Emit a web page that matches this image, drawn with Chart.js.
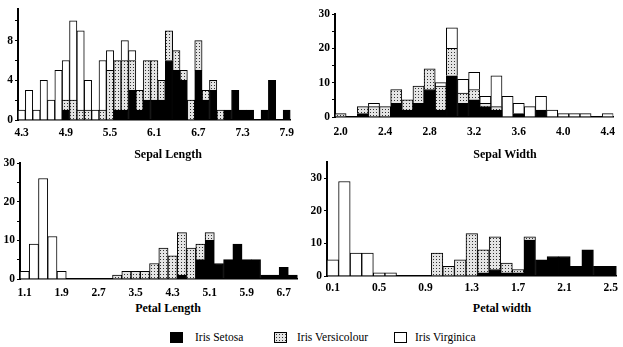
<!DOCTYPE html>
<html>
<head>
<meta charset="utf-8">
<script src="https://cdn.jsdelivr.net/npm/chart.js@4/dist/chart.umd.min.js"></script>
<style>
  body { margin: 0; background: #fff; }
  #wrap { position: relative; width: 623px; height: 347px; overflow: hidden; font-family: 'Liberation Serif', 'DejaVu Serif', serif; }
  canvas { position: absolute; }
  .axtitle { position: absolute; font-weight: bold; font-size: 12px; transform: translate(-50%, -50%); white-space: nowrap; }
  .sw { position: absolute; width: 11px; height: 9px; border: 1px solid #000; }
  .lt { position: absolute; font-size: 11.5px; transform: translateY(-50%); white-space: nowrap; }
</style>
</head>
<body>
<div id="wrap">
  <canvas id="sepalLength" width="300" height="140" style="left:0;top:0"></canvas>
  <canvas id="sepalWidth" width="323" height="140" style="left:300px;top:0"></canvas>
  <canvas id="petalLength" width="300" height="150" style="left:0;top:150px"></canvas>
  <canvas id="petalWidth" width="323" height="150" style="left:300px;top:150px"></canvas>

  <div class="axtitle" style="left:168px;top:154px">Sepal Length</div>
  <div class="axtitle" style="left:505px;top:154px">Sepal Width</div>
  <div class="axtitle" style="left:168px;top:308px">Petal Length</div>
  <div class="axtitle" style="left:502px;top:308px">Petal width</div>

  <div class="sw" style="left:170px;top:332px;background:#000"></div>
  <div class="lt" style="left:195px;top:337px">Iris Setosa</div>
  <div class="sw" id="dotSwatch" style="left:274px;top:332px"></div>
  <div class="lt" style="left:297px;top:337px">Iris Versicolour</div>
  <div class="sw" style="left:394px;top:332px;background:#fff"></div>
  <div class="lt" style="left:415px;top:337px">Iris Virginica</div>
</div>
<script>
// Sepal length (bins of 0.1)
const slBins = ['4.3','4.4','4.5','4.6','4.7','4.8','4.9','5.0','5.1','5.2','5.3','5.4','5.5','5.6','5.7','5.8','5.9',
  '6.0','6.1','6.2','6.3','6.4','6.5','6.6','6.7','6.8','6.9','7.0','7.1','7.2','7.3','7.4','7.5','7.6','7.7','7.8','7.9'];
const slTickLabels = ['4.3','4.9','5.5','6.1','6.7','7.3','7.9'];
const slSetosa      = [0,0,0,0,0,0,1,0,0,0,0,0,0,1,1,3,1,2,2,2,6,5,4,0,5,2,3,0,1,3,1,1,0,1,4,0,1];
const slVersicolour = [0,0,0,0,0,0,1,2,1,1,0,1,5,5,5,3,2,4,4,2,3,2,1,2,3,1,1,1,0,0,0,0,0,0,0,0,0];
const slVirginica   = [1,3,1,4,2,5,4,8,8,3,1,5,2,0,2,1,0,0,0,0,0,0,0,0,0,0,0,0,0,0,0,0,0,0,0,0,0];
const slYTicks = [0,2,4,6,8,10];
const slYLabels = [0,4,8];

// Sepal width (bins of 0.1)
const swBins = ['2.0','2.1','2.2','2.3','2.4','2.5','2.6','2.7','2.8','2.9','3.0','3.1','3.2','3.3','3.4','3.5',
  '3.6','3.7','3.8','3.9','4.0','4.1','4.2','4.3','4.4'];
const swTickLabels = ['2.0','2.4','2.8','3.2','3.6','4.0','4.4'];
const swSetosa      = [0,0,1,0,0,4,2,4,8,2,12,4,5,3,2,0,1,0,2,0,0,0,0,0,0];
const swVersicolour = [1,0,2,3,3,4,3,5,6,7,8,3,3,1,1,0,0,0,0,0,0,0,0,0,0];
const swVirginica   = [0,0,0,1,0,0,0,0,0,1,6,4,5,2,9,6,3,3,4,2,1,1,1,0,1];
const swYTicks = [0,5,10,15,20,25,30];
const swYLabels = [0,10,20,30];

// Petal length (bins of 0.2, labelled by centre)
const plBins = ['1.1','1.3','1.5','1.7','1.9','2.1','2.3','2.5','2.7','2.9','3.1','3.3','3.5','3.7','3.9',
  '4.1','4.3','4.5','4.7','4.9','5.1','5.3','5.5','5.7','5.9','6.1','6.3','6.5','6.7','6.9'];
const plTickLabels = ['1.1','1.9','2.7','3.5','4.3','5.1','5.9','6.7'];
const plSetosa      = [0,0,0,0,0,0,0,0,0,0,0,0,0,0,0,0,0,1,0,5,10,4,5,9,5,5,1,1,3,1];
const plVersicolour = [0,0,0,0,0,0,0,0,0,0,1,2,2,2,4,8,6,11,8,4,2,0,0,0,0,0,0,0,0,0];
const plVirginica   = [2,9,26,11,2,0,0,0,0,0,0,0,0,0,0,0,0,0,0,0,0,0,0,0,0,0,0,0,0,0];
const plYTicks = [0,5,10,15,20,25,30];
const plYLabels = [0,10,20,30];

// Petal width (bins of 0.1)
const pwBins = ['0.1','0.2','0.3','0.4','0.5','0.6','0.7','0.8','0.9','1.0','1.1','1.2','1.3','1.4','1.5',
  '1.6','1.7','1.8','1.9','2.0','2.1','2.2','2.3','2.4','2.5'];
const pwTickLabels = ['0.1','0.5','0.9','1.3','1.7','2.1','2.5'];
const pwSetosa      = [0,0,0,0,0,0,0,0,0,0,0,0,0,1,2,1,1,11,5,6,6,3,8,3,3];
const pwVersicolour = [0,0,0,0,0,0,0,0,0,7,3,5,13,7,10,3,1,1,0,0,0,0,0,0,0];
const pwVirginica   = [5,29,7,7,1,1,0,0,0,0,0,0,0,0,0,0,0,0,0,0,0,0,0,0,0];
const pwYTicks = [0,5,10,15,20,25,30,35];
const pwYLabels = [0,10,20,30];

// stipple used for Versicolour
function makeDots() {
    const c = document.createElement('canvas');
    c.width = 3; c.height = 3;
    const g = c.getContext('2d');
    g.fillStyle = '#e4e4e4';
    g.fillRect(0, 0, 3, 3);
    g.fillStyle = '#333';
    g.fillRect(1, 1, 1, 1);
    return c;
}
const dotCanvas = makeDots();
const dotPattern = dotCanvas.getContext('2d').createPattern(dotCanvas, 'repeat');
document.getElementById('dotSwatch').style.backgroundImage = `url(${dotCanvas.toDataURL()})`;

const tickFont = { family: 'Liberation Serif, Times New Roman, serif', size: 11.5, weight: 'bold' };

function histogram(id, bins, tickLabels, black, dotted, white, yMax, yTicks, yLabels, geo) {
    const ds = (label, data, fill) => ({
        label, data,
        backgroundColor: fill,
        borderColor: '#000',
        borderWidth: 1,
        categoryPercentage: 1,
        barPercentage: 1
    });
    return new Chart(document.getElementById(id), {
        type: 'bar',
        data: {
            labels: bins,
            datasets: [
                ds('Iris Setosa', black, '#000'),
                ds('Iris Versicolour', dotted, dotPattern),
                ds('Iris Virginica', white, '#fff')
            ]
        },
        options: {
            responsive: false,
            animation: false,
            layout: { padding: { top: geo.top, right: geo.right, left: 0, bottom: 0 } },
            plugins: { legend: { display: false }, tooltip: { enabled: false } },
            scales: {
                x: {
                    stacked: true,
                    grid: { display: false, drawTicks: false },
                    border: { display: true, color: '#000', width: 1.5 },
                    ticks: {
                        autoSkip: false, maxRotation: 0, padding: geo.tickPad,
                        color: '#000', font: tickFont,
                        callback: function (v) {
                            const l = this.getLabelForValue(v);
                            return tickLabels.includes(l) ? l : '';
                        }
                    },
                    afterFit: s => { s.height = geo.xh; }
                },
                y: {
                    stacked: true,
                    min: 0,
                    max: yMax,
                    grid: { drawOnChartArea: false, drawTicks: true, tickLength: 3, color: '#000' },
                    border: { display: true, color: '#000', width: 2 },
                    ticks: {
                        padding: 2, color: '#000', font: tickFont,
                        callback: v => yLabels.includes(v) ? v : ''
                    },
                    afterBuildTicks: s => { s.ticks = yTicks.map(v => ({ value: v })); },
                    afterFit: s => { s.width = geo.yw; }
                }
            }
        }
    });
}

histogram('sepalLength', slBins, slTickLabels, slSetosa, slVersicolour, slVirginica, 11.2, slYTicks, slYLabels,
    { top: 8, right: 2, xh: 20, yw: 18, tickPad: 6 });
histogram('sepalWidth', swBins, swTickLabels, swSetosa, swVersicolour, swVirginica, 30, swYTicks, swYLabels,
    { top: 14, right: 1, xh: 23, yw: 35, tickPad: 8 });
histogram('petalLength', plBins, plTickLabels, plSetosa, plVersicolour, plVirginica, 30, plYTicks, plYLabels,
    { top: 13, right: 2, xh: 21, yw: 20, tickPad: 7 });
histogram('petalWidth', pwBins, pwTickLabels, pwSetosa, pwVersicolour, pwVirginica, 35, pwYTicks, pwYLabels,
    { top: 12, right: 1, xh: 24, yw: 27, tickPad: 5 });
</script>
</body>
</html>
